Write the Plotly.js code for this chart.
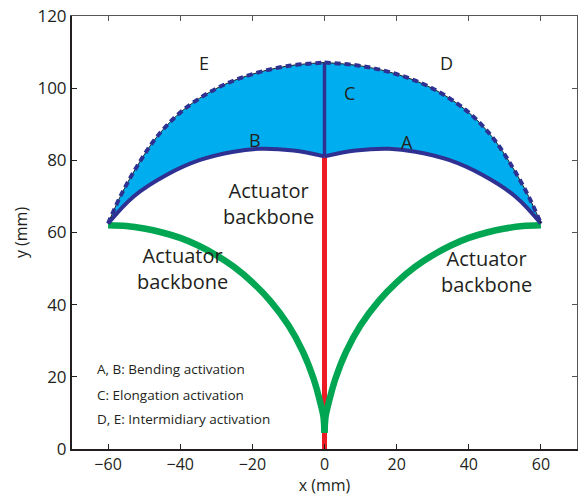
<!DOCTYPE html>
<html>
<head>
<meta charset="utf-8">
<script src="https://cdn.plot.ly/plotly-3.0.1.min.js"></script>
<style>
html,body{margin:0;padding:0;background:#fff;}
#chart{width:581px;height:496px;}
</style>
</head>
<body>
<div id="chart"></div>
<script>
// ---- data (mm) ----
// lower (bending) curve, left half B and right half A
var lowerLeftX  = [-60, -52.9, -43.7, -34.5, -25.2, -17.9, -8.6, 0];
var lowerLeftY  = [62.5, 70.0, 76.0, 80.1, 82.4, 83.2, 82.7, 81.1];
var lowerRightX = [0, 8.6, 17.9, 25.2, 34.5, 43.7, 52.9, 60];
var lowerRightY = [81.1, 82.7, 83.2, 82.4, 80.1, 76.0, 70.0, 62.5];

// upper (intermediary) curve, left half E and right half D
var upperLeftX  = [-60, -56.6, -52.0, -46.4, -39.1, -29.8, -20.6, -10.5, 0];
var upperLeftY  = [62.5, 70.0, 78.3, 86.6, 94.0, 100.0, 103.7, 106.1, 107.1];
var upperRightX = [0, 10.5, 20.6, 29.8, 39.1, 46.4, 52.0, 56.6, 60];
var upperRightY = [107.1, 106.1, 103.7, 100.0, 94.0, 86.6, 78.3, 70.0, 62.5];

// elongation segment C
var elongX = [0, 0];
var elongY = [81.1, 107.1];

// central actuator backbone (red)
var centerX = [0, 0];
var centerY = [0, 81.1];

// side actuator backbones (green)
var greenLeftX  = [-60, -55, -50, -45, -40, -35, -30, -25, -20, -15, -10, -6, -3, -1.2, -0.3, 0];
var greenLeftY  = [62, 61.8, 61.1, 60.0, 58.5, 56.4, 53.7, 50.4, 46.2, 41.0, 34.3, 27.0, 19.4, 13.0, 9.0, 4.5];
var greenRightX = [60, 55, 50, 45, 40, 35, 30, 25, 20, 15, 10, 6, 3, 1.2, 0.3, 0];
var greenRightY = [62, 61.8, 61.1, 60.0, 58.5, 56.4, 53.7, 50.4, 46.2, 41.0, 34.3, 27.0, 19.4, 13.0, 9.0, 4.5];

// text labels
var letterText = ['E', 'D', 'C', 'B', 'A'];
var letterX    = [-33.5, 33.9, 7.0, -19.2, 22.9];
var letterY    = [106.9, 107.0, 98.8, 85.7, 85.2];

var backboneText = ['Actuator<br>backbone', 'Actuator<br>backbone', 'Actuator<br>backbone'];
var backboneX    = [-15.4, -39.4, 45.0];
var backboneY    = [68.0, 50.0, 49.3];

var noteText = ['A, B: Bending activation', 'C: Elongation activation', 'D, E: Intermidiary activation'];
var noteX    = [-63.5, -63.5, -63.5];
var noteY    = [22.2, 15.1, 8.4];

var xTicks = [-60, -40, -20, 0, 20, 40, 60];
var yTicks = [0, 20, 40, 60, 80, 100, 120];

// ---- styles ----
var FONT = '"Open Sans", "Noto Sans", sans-serif';
var TXT = '#231F20';
var DARKBLUE = '#2E3192';
var FILL = '#00AEEF';
var GREEN = '#00A651';
var RED = '#ED1C24';

var hidden = {color: 'rgba(0,0,0,0)', width: 0, shape: 'spline'};

var traces = [
  // fills
  {x: lowerLeftX, y: lowerLeftY, mode: 'lines', line: hidden, hoverinfo: 'skip'},
  {x: upperLeftX, y: upperLeftY, mode: 'lines', line: hidden, fill: 'tonexty', fillcolor: FILL, hoverinfo: 'skip'},
  {x: lowerRightX, y: lowerRightY, mode: 'lines', line: hidden, hoverinfo: 'skip'},
  {x: upperRightX, y: upperRightY, mode: 'lines', line: hidden, fill: 'tonexty', fillcolor: FILL, hoverinfo: 'skip'},
  // central backbone
  {x: centerX, y: centerY, mode: 'lines', line: {color: RED, width: 5}},
  // side backbones
  {x: greenLeftX, y: greenLeftY, mode: 'lines', line: {color: GREEN, width: 6.5, shape: 'spline', smoothing: 0.8}},
  {x: greenRightX, y: greenRightY, mode: 'lines', line: {color: GREEN, width: 6.5, shape: 'spline', smoothing: 0.8}},
  // bending curves
  {x: lowerLeftX, y: lowerLeftY, mode: 'lines', line: {color: DARKBLUE, width: 4, shape: 'spline'}},
  {x: lowerRightX, y: lowerRightY, mode: 'lines', line: {color: DARKBLUE, width: 4, shape: 'spline'}},
  // elongation
  {x: elongX, y: elongY, mode: 'lines', line: {color: DARKBLUE, width: 3.5}},
  // intermediary (thin black + dashed blue)
  {x: upperLeftX, y: upperLeftY, mode: 'lines', line: {color: '#231F20', width: 1, shape: 'spline'}},
  {x: upperRightX, y: upperRightY, mode: 'lines', line: {color: '#231F20', width: 1, shape: 'spline'}},
  {x: upperLeftX, y: upperLeftY, mode: 'lines', line: {color: DARKBLUE, width: 4, shape: 'spline', dash: '6px,4px'}},
  {x: upperRightX, y: upperRightY, mode: 'lines', line: {color: DARKBLUE, width: 4, shape: 'spline', dash: '6px,4px'}},
  // dummy trace for the mirrored frame axes
  {x: [], y: [], xaxis: 'x2', yaxis: 'y2', mode: 'lines'}
];

var annotations = [];
letterText.forEach(function (t, i) {
  annotations.push({x: letterX[i], y: letterY[i], xref: 'x', yref: 'y', text: t, showarrow: false,
    font: {family: FONT, size: 18, color: TXT}});
});
backboneText.forEach(function (t, i) {
  annotations.push({x: backboneX[i], y: backboneY[i], xref: 'x', yref: 'y', text: t, showarrow: false,
    align: 'center', font: {family: FONT, size: 20, color: TXT}});
});
noteText.forEach(function (t, i) {
  annotations.push({x: noteX[i], y: noteY[i], xref: 'x', yref: 'y', text: t, showarrow: false,
    xanchor: 'left', font: {family: FONT, size: 13.5, color: TXT}});
});

var axCommon = {
  showgrid: false, zeroline: false, showline: true, linecolor: TXT,
  ticks: 'inside', ticklen: 5, tickwidth: 1, tickcolor: TXT
};

var layout = {
  width: 581, height: 496,
  margin: {l: 72, r: 4, t: 16, b: 47},
  paper_bgcolor: '#fff', plot_bgcolor: '#fff',
  showlegend: false, hovermode: false,
  font: {family: FONT, color: TXT},
  xaxis: Object.assign({}, axCommon, {
    range: [-70, 70], tickvals: xTicks, linewidth: 2,
    tickfont: {family: FONT, size: 16, color: TXT},
    title: {text: 'x (mm)', font: {family: FONT, size: 16, color: TXT}, standoff: 4}
  }),
  yaxis: Object.assign({}, axCommon, {
    range: [0, 120], tickvals: yTicks, linewidth: 2,
    tickfont: {family: FONT, size: 17, color: TXT},
    title: {text: 'y (mm)', font: {family: FONT, size: 16, color: TXT}, standoff: 6}
  }),
  xaxis2: Object.assign({}, axCommon, {
    range: [-70, 70], tickvals: xTicks, linewidth: 1, overlaying: 'x', side: 'top',
    anchor: 'y2', showticklabels: false, linecolor: '#555', tickcolor: '#555'
  }),
  yaxis2: Object.assign({}, axCommon, {
    range: [0, 120], tickvals: yTicks, linewidth: 1, overlaying: 'y', side: 'right',
    anchor: 'x2', showticklabels: false, linecolor: '#555', tickcolor: '#555'
  }),
  annotations: annotations
};

Plotly.newPlot('chart', traces, layout, {displayModeBar: false, staticPlot: true});
</script>
</body>
</html>
